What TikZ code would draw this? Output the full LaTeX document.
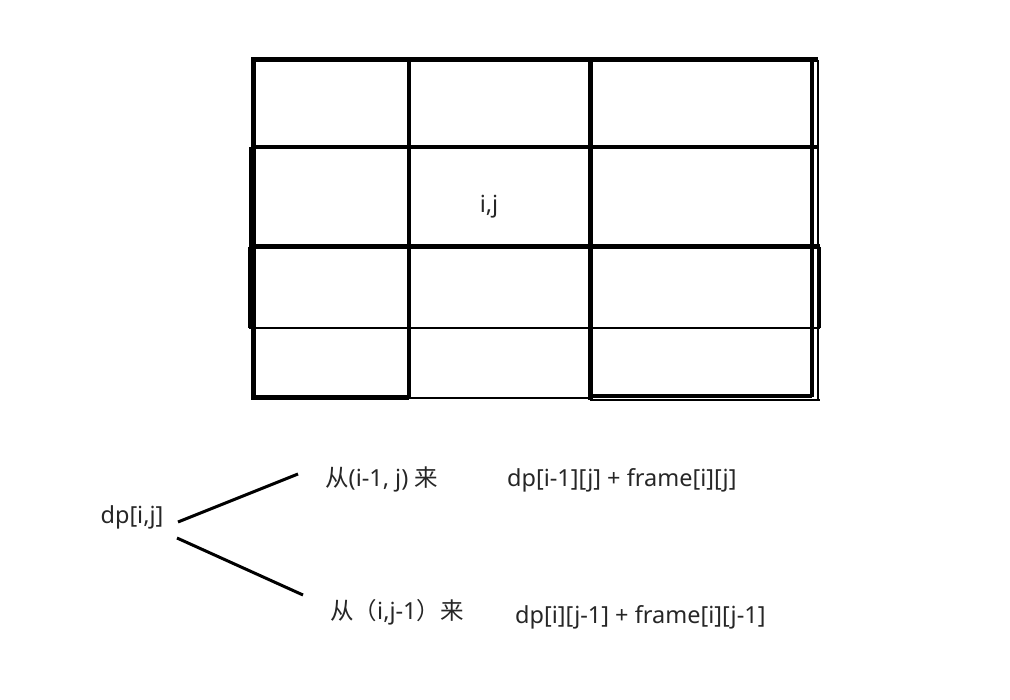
\documentclass[tikz,border=0pt]{standalone}
\usepackage{fontspec}
\setmainfont{Noto Sans}
\newfontfamily\cjkf{Noto Sans CJK SC}
\begin{document}
\begin{tikzpicture}[x=1pt,y=-1pt,
  txt/.style={inner sep=0pt,font=\fontsize{23.5}{28}\selectfont,text=black!85},
  thickl/.style={line width=5pt},
  medl/.style={line width=3.5pt},
  thinl/.style={line width=2pt},
  conn/.style={line width=3pt}]
\useasboundingbox (0,0) rectangle (1010,700);
% horizontal lines
\draw[thickl] (251,60) -- (818,60);
\draw[medl] (251,147) -- (818,147);
\draw[thickl] (249,247) -- (820,247);
\draw[thinl] (249,328) -- (820,328);
\draw[thickl] (251,397.5) -- (409,397.5);
\draw[thinl] (409,398) -- (590,398);
\draw[medl] (590,396) -- (812,396);
\draw[thinl] (590,400) -- (820,400);
% vertical lines
\draw[thickl] (253,58) -- (253,400);
\draw[thickl] (251,147) -- (251,247);
\draw[line width=4pt] (250,247) -- (250,328);
\draw[medl] (409,60) -- (409,398);
\draw[thickl] (590,60) -- (590,400);
\draw[medl] (812,60) -- (812,397);
\draw[thinl] (818,60) -- (818,400);
\draw[thinl] (820,247) -- (820,328);
% texts
\node[txt] (ij) at (489,207) {i,j};
\node[txt] (dp) at (132,517) {dp[i,j]};
\node[txt,anchor=west] (up) at (325,479) {{\cjkf 从}(i-1, j) {\cjkf 来}};
\node[txt,anchor=west] (upf) at (507,480) {dp[i-1][j] + frame[i][j]};
\node[txt,anchor=west] (left) at (330,612) {{\cjkf 从（}i,j-1{\cjkf ）来}};
\node[txt,anchor=west] (leftf) at (515,617) {dp[i][j-1] + frame[i][j-1]};
% connectors
\coordinate (a1) at (178,522);
\coordinate (a2) at (298,474);
\coordinate (b1) at (177,538);
\coordinate (b2) at (303,595);
\draw[conn] (a1) -- (a2);
\draw[conn] (b1) -- (b2);
\end{tikzpicture}
\end{document}
